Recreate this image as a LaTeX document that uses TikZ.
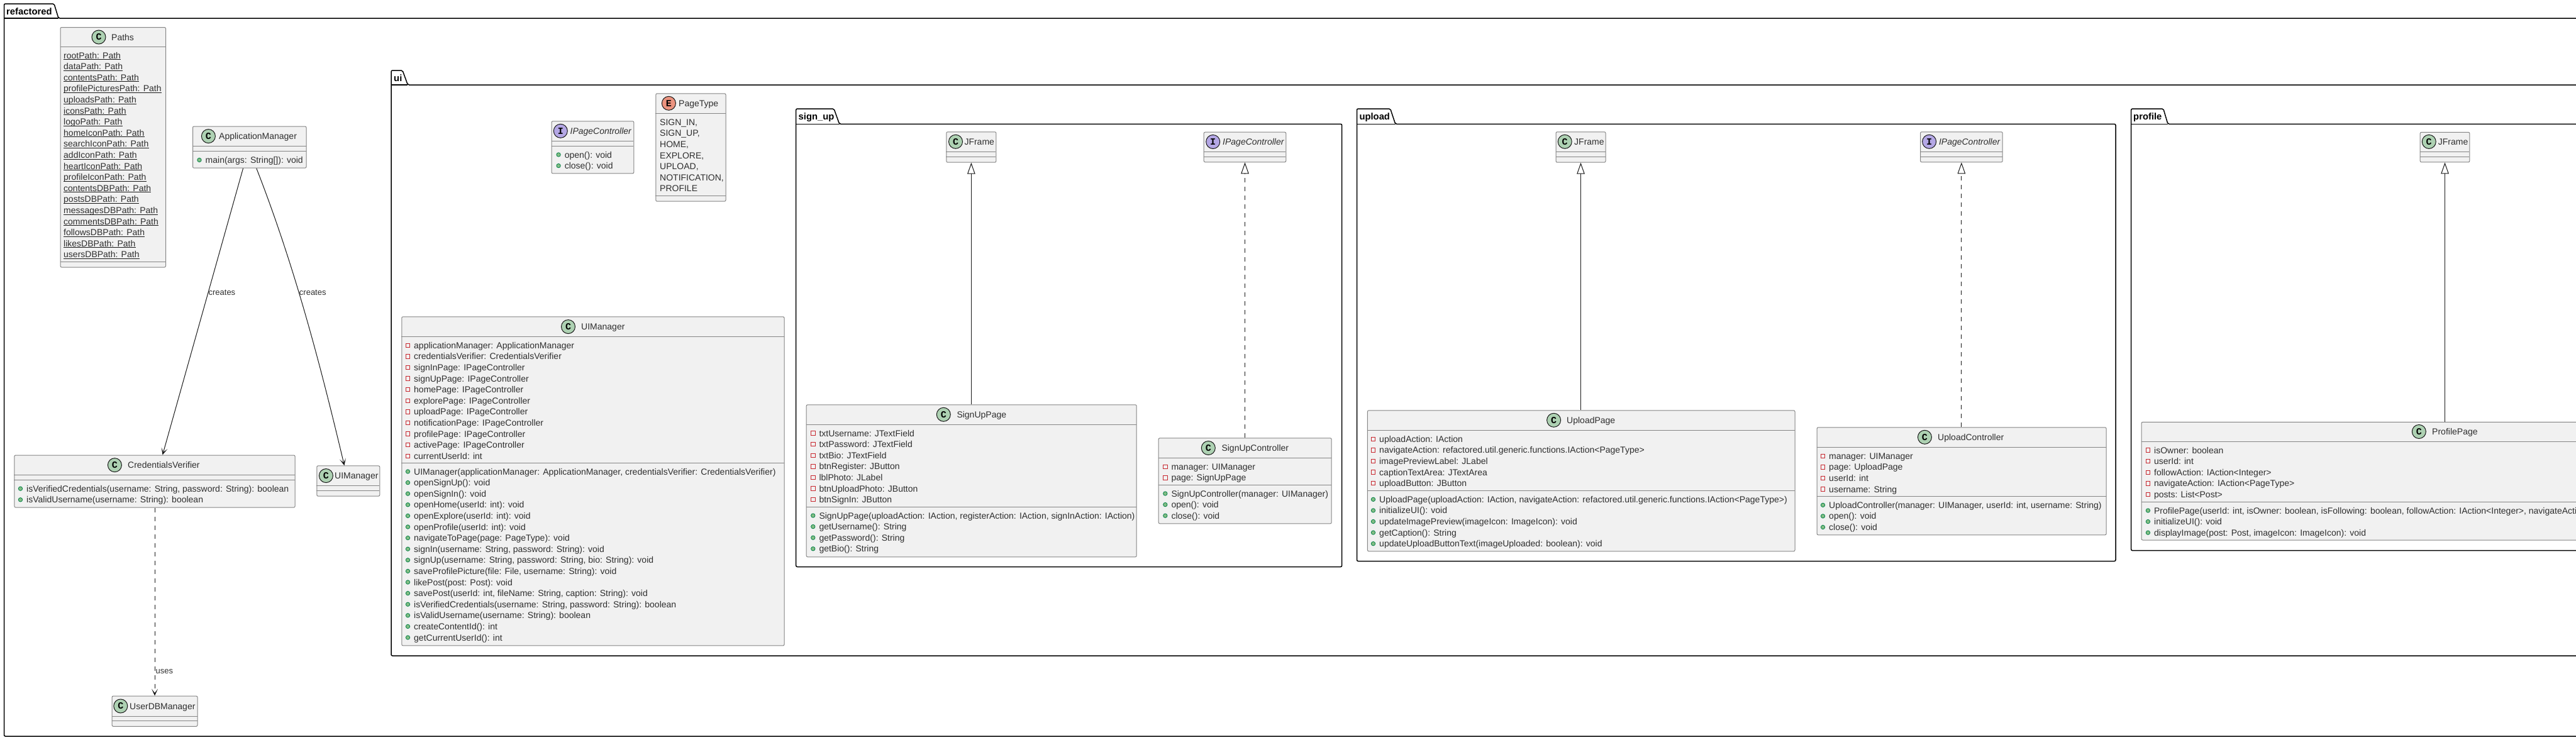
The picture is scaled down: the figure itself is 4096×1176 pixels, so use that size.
\documentclass[tikz,border=0pt]{standalone}
\usepackage{fontspec}
\setmainfont{Liberation Sans}
\setmonofont{Liberation Mono}
\usetikzlibrary{arrows.meta,positioning}
\definecolor{boxfill}{HTML}{F1F1F1}
\definecolor{boxgray}{HTML}{858585}
\definecolor{inkdark}{HTML}{181818}
\definecolor{inksoft}{HTML}{2E2E2E}
\definecolor{spotgreen}{HTML}{ADD1B2}
\definecolor{spotviolet}{HTML}{B4A7E5}
\definecolor{spotred}{HTML}{EB937F}
\definecolor{privred}{HTML}{C82930}
\definecolor{pubfill}{HTML}{84BE84}
\definecolor{publine}{HTML}{038048}
\newcommand{\umlfont}{\fontsize{14}{16}\selectfont}
\tikzset{
  classbox/.style={rectangle,draw=boxgray,fill=boxfill,line width=1pt,rounded corners=2pt,inner sep=0pt,anchor=north west},
  boxline/.style={draw=boxgray,line width=1pt},
  pkgline/.style={draw=black,line width=1.5pt,rounded corners=2pt},
  pkgname/.style={anchor=base west,inner sep=0pt,font=\fontsize{14.8}{16}\selectfont\bfseries},
  classname/.style={anchor=base west,inner sep=0pt,text=inksoft,font=\umlfont},
  membertext/.style={anchor=base west,inner sep=0pt,text=inksoft,font=\umlfont},
  statictext/.style={anchor=base west,inner sep=0pt,text=inksoft,font=\umlfont,text depth=1.5pt},
  linklabel/.style={anchor=west,inner sep=0pt,text=inksoft,font=\fontsize{13}{15}\selectfont},
  spot/.style={circle,draw=inkdark,line width=1pt,inner sep=0pt,minimum size=22pt,font=\ttfamily\bfseries\fontsize{15}{15}\selectfont},
  spotC/.style={spot,fill=spotgreen},
  spotI/.style={spot,fill=spotviolet},
  spotE/.style={spot,fill=spotred},
  privicon/.style={draw=privred,line width=1pt},
  pubicon/.style={draw=publine,fill=pubfill,line width=0.8pt},
  uses/.style={draw=inkdark,line width=1pt,-{Stealth[length=11pt,width=10pt,inset=6.5pt]}},
  usesdash/.style={uses,dash pattern=on 7pt off 7pt},
  extends/.style={draw=inkdark,line width=1pt,-{Triangle[open,fill=white,length=18pt,width=12.5pt]}},
  realizes/.style={extends,dash pattern=on 7pt off 7pt},
}
% x, y of a member: the text start and the line middle
\newcommand{\privm}[4]{\draw[privicon] (#2-9.5-3.2,#3-3.2) rectangle ++(6.4,6.4); \node[membertext] (#1) at (#2,#3+5) {#4};}
\newcommand{\pubm}[4]{\draw[pubicon] (#2-9.5,#3) circle (3.2pt); \node[membertext] (#1) at (#2,#3+5) {#4};}
\newcommand{\statm}[4]{\node[statictext] (#1) at (#2,#3+5) {#4}; \draw[line width=1pt,draw=inkdark] (#1.south west) -- (#1.south east);}
% left, top, line, tab top right, tab bottom right, right, bottom
\newcommand{\pkgframe}[7]{\draw[pkgline] (#1,#3) -- (#1,#2) -- (#4,#2) -- (#5,#3) -- (#6,#3) -- (#6,#7) -- (#1,#7) -- cycle; \draw[pkgline] (#1,#3) -- (#5,#3);}

\begin{document}
\begin{tikzpicture}[x=1pt,y=-1pt]
\path[use as bounding box,clip] (0,0) rectangle (4096,1176);

% packages
\pkgframe{6.5}{6}{29}{86}{93}{4100}{1171}
\node[pkgname] (refactoredName) at (10,23.5) {refactored};
\pkgframe{622}{112}{135}{640}{648.4}{4100}{1043}
\node[pkgname] (uiName) at (626,129.3) {ui};
\pkgframe{1265.7}{173}{197.3}{1326}{1334.7}{2133.7}{901.5}
\node[pkgname] (signUpName) at (1269.5,190) {sign\_up};
\pkgframe{2157.5}{173}{197.3}{2210.7}{2218.7}{3364}{892.5}
\node[pkgname] (uploadName) at (2161.3,190) {upload};
\pkgframe{3388.7}{173}{197.3}{3439.8}{3447}{4100}{875.7}
\node[pkgname] (profileName) at (3392,190) {profile};

% Paths
\node[classbox,minimum width=167.5pt,minimum height=381.5pt] (paths) at (95.5,43) {};
\draw[boxline] (95.5,74) -- (263,74);
\draw[boxline] (95.5,416.4) -- (263,416.4);
\node[spotC] (pathsSpot) at (157,59) {C};
\node[classname] (pathsName) at (177,64) {Paths};
\statm{rootPath}{101}{88}{rootPath: Path}
\statm{dataPath}{101}{105.6}{dataPath: Path}
\statm{contentsPath}{101}{123.2}{contentsPath: Path}
\statm{picturesPath}{101}{140.8}{profilePicturesPath: Path}
\statm{uploadsPath}{101}{158.4}{uploadsPath: Path}
\statm{iconsPath}{101}{176}{iconsPath: Path}
\statm{logoPath}{101}{193.6}{logoPath: Path}
\statm{homeIconPath}{101}{211.2}{homeIconPath: Path}
\statm{searchIconPath}{101}{228.8}{searchIconPath: Path}
\statm{addIconPath}{101}{246.4}{addIconPath: Path}
\statm{heartIconPath}{101}{264}{heartIconPath: Path}
\statm{profileIconPath}{101}{281.6}{profileIconPath: Path}
\statm{contentsDBPath}{101}{299.2}{contentsDBPath: Path}
\statm{postsDBPath}{101}{316.8}{postsDBPath: Path}
\statm{messagesDBPath}{101}{334.4}{messagesDBPath: Path}
\statm{commentsDBPath}{101}{352}{commentsDBPath: Path}
\statm{followsDBPath}{101}{369.6}{followsDBPath: Path}
\statm{likesDBPath}{101}{387.2}{likesDBPath: Path}
\statm{usersDBPath}{101}{404.8}{usersDBPath: Path}

% ApplicationManager
\node[classbox,minimum width=180.5pt,minimum height=66.2pt] (appManager) at (306,200.5) {};
\draw[boxline] (306,232.3) -- (486.5,232.3);
\draw[boxline] (306,240.3) -- (486.5,240.3);
\node[spotC] (appManagerSpot) at (331.4,216.6) {C};
\node[classname] (appManagerName) at (348,221.6) {ApplicationManager};
\pubm{appMain}{326.5}{254.5}{main(args: String[]): void}

% CredentialsVerifier
\node[classbox,minimum width=446.2pt,minimum height=83.1pt] (credVerifier) at (22.4,723.5) {};
\draw[boxline] (22.4,755.5) -- (468.6,755.5);
\draw[boxline] (22.4,763.6) -- (468.6,763.6);
\node[spotC] (credVerifierSpot) at (182.4,739.7) {C};
\node[classname] (credVerifierName) at (203,744.7) {CredentialsVerifier};
\pubm{credVerified}{42}{777.2}{isVerifiedCredentials(username: String, password: String): boolean}
\pubm{credValid}{42}{794.8}{isValidUsername(username: String): boolean}

% UIManager stub
\node[classbox,minimum width=100pt,minimum height=48.2pt] (uiStub) at (503.3,740.4) {};
\draw[boxline] (503.3,772.4) -- (603.3,772.4);
\draw[boxline] (503.3,780.5) -- (603.3,780.5);
\node[spotC] (uiStubSpot) at (518.4,756.6) {C};
\node[classname] (uiStubName) at (532,761.6) {UIManager};

% UserDBManager
\node[classbox,minimum width=135.9pt,minimum height=48.2pt] (userDb) at (177.6,1106.6) {};
\draw[boxline] (177.6,1139) -- (313.5,1139);
\draw[boxline] (177.6,1146.7) -- (313.5,1146.7);
\node[spotC] (userDbSpot) at (191.8,1123) {C};
\node[classname] (userDbName) at (206,1128) {UserDBManager};

% links of the refactored package
\draw[uses] ([xshift=-10.2pt]appManager.south) -- node[linklabel,pos=.433] (createsLeft) {creates} ([xshift=12.5pt]credVerifier.north);
\draw[uses] ([xshift=11pt]appManager.south) .. controls (469,424.6) and (510,582.5) .. node[linklabel,pos=.42] (createsRight) {creates} ([xshift=-6.3pt]uiStub.north);
\draw[usesdash] (credVerifier.south -| userDb.north) -- node[linklabel,pos=.871,xshift=1pt] (usesLabel) {uses} (userDb.north);

% IPageController and PageType
\node[classbox,minimum width=130.9pt,minimum height=83pt] (pageCtrl) at (876.5,192.3) {};
\draw[boxline] (876.5,224.3) -- (1007.4,224.3);
\draw[boxline] (876.5,232.3) -- (1007.4,232.3);
\node[spotI] (pageCtrlSpot) at (891.3,208.3) {I};
\node[classname] (pageCtrlName) at (906.4,213.3) {\itshape IPageController};
\pubm{pageCtrlOpen}{897.6}{246}{open(): void}
\pubm{pageCtrlClose}{897.6}{263.6}{close(): void}

\node[classbox,minimum width=111.2pt,minimum height=171.4pt] (pageType) at (1042.3,148.3) {};
\draw[boxline] (1042.3,180.3) -- (1153.5,180.3);
\draw[boxline] (1042.3,311.3) -- (1153.5,311.3);
\node[spotE] (pageTypeSpot) at (1063.4,164.3) {E};
\node[classname] (pageTypeName) at (1079,169.3) {PageType};
\node[membertext] (typeSignIn) at (1049,199.3) {SIGN\_IN,};
\node[membertext] (typeSignUp) at (1049,216.9) {SIGN\_UP,};
\node[membertext] (typeHome) at (1049,234.5) {HOME,};
\node[membertext] (typeExplore) at (1049,252.1) {EXPLORE,};
\node[membertext] (typeUpload) at (1049,269.7) {UPLOAD,};
\node[membertext] (typeNotif) at (1049,287.3) {NOTIFICATION,};
\node[membertext] (typeProfile) at (1049,304.9) {PROFILE};

% UIManager
\node[classbox,minimum width=608.2pt,minimum height=523.1pt] (uiManager) at (638.3,503.3) {};
\draw[boxline] (638.3,535.5) -- (1246.5,535.5);
\draw[boxline] (638.3,736) -- (1246.5,736);
\node[spotC] (uiManagerSpot) at (903.5,519.6) {C};
\node[classname] (uiManagerName) at (924,524.6) {UIManager};
\privm{uiApp}{658}{549.2}{applicationManager: ApplicationManager}
\privm{uiCred}{658}{566.8}{credentialsVerifier: CredentialsVerifier}
\privm{uiSignIn}{658}{584.4}{signInPage: IPageController}
\privm{uiSignUp}{658}{602}{signUpPage: IPageController}
\privm{uiHome}{658}{619.6}{homePage: IPageController}
\privm{uiExplore}{658}{637.2}{explorePage: IPageController}
\privm{uiUpload}{658}{654.8}{uploadPage: IPageController}
\privm{uiNotif}{658}{672.4}{notificationPage: IPageController}
\privm{uiProfile}{658}{690}{profilePage: IPageController}
\privm{uiActive}{658}{707.6}{activePage: IPageController}
\privm{uiCurrent}{658}{725.2}{currentUserId: int}
\pubm{uiCtor}{658}{750}{UIManager(applicationManager: ApplicationManager, credentialsVerifier: CredentialsVerifier)}
\pubm{uiOpenUp}{658}{767.6}{openSignUp(): void}
\pubm{uiOpenIn}{658}{785.2}{openSignIn(): void}
\pubm{uiOpenHome}{658}{802.8}{openHome(userId: int): void}
\pubm{uiOpenExplore}{658}{820.4}{openExplore(userId: int): void}
\pubm{uiOpenProfile}{658}{838}{openProfile(userId: int): void}
\pubm{uiNavigate}{658}{855.6}{navigateToPage(page: PageType): void}
\pubm{uiDoSignIn}{658}{873.2}{signIn(username: String, password: String): void}
\pubm{uiDoSignUp}{658}{890.8}{signUp(username: String, password: String, bio: String): void}
\pubm{uiSavePic}{658}{908.4}{saveProfilePicture(file: File, username: String): void}
\pubm{uiLike}{658}{926}{likePost(post: Post): void}
\pubm{uiSavePost}{658}{943.6}{savePost(userId: int, fileName: String, caption: String): void}
\pubm{uiVerified}{658}{961.2}{isVerifiedCredentials(username: String, password: String): boolean}
\pubm{uiValid}{658}{978.8}{isValidUsername(username: String): boolean}
\pubm{uiCreateId}{658}{996.4}{createContentId(): int}
\pubm{uiGetId}{658}{1014}{getCurrentUserId(): int}

% sign_up
\node[classbox,minimum width=79.1pt,minimum height=48.4pt] (suFrame) at (1504.3,209.3) {};
\draw[boxline] (1504.3,241.3) -- (1583.4,241.3);
\draw[boxline] (1504.3,249.3) -- (1583.4,249.3);
\node[spotC] (suFrameSpot) at (1519.5,225.3) {C};
\node[classname] (suFrameName) at (1533.3,230.3) {JFrame};

\node[classbox,minimum width=130.6pt,minimum height=47.6pt] (suCtrlFace) at (1913.7,209.7) {};
\draw[boxline] (1913.7,241.3) -- (2044.3,241.3);
\draw[boxline] (1913.7,249.3) -- (2044.3,249.3);
\node[spotI] (suCtrlFaceSpot) at (1928.7,225.5) {I};
\node[classname] (suCtrlFaceName) at (1944,230.5) {\itshape IPageController};

\node[classbox,minimum width=525pt,minimum height=242pt] (suPage) at (1281.7,643.3) {};
\draw[boxline] (1281.7,675) -- (1806.7,675);
\draw[boxline] (1281.7,806.7) -- (1806.7,806.7);
\node[spotC] (suPageSpot) at (1500.3,659.3) {C};
\node[classname] (suPageName) at (1521.3,664.3) {SignUpPage};
\privm{suUser}{1302.3}{689}{txtUsername: JTextField}
\privm{suPass}{1302.3}{706.6}{txtPassword: JTextField}
\privm{suBio}{1302.3}{724.2}{txtBio: JTextField}
\privm{suRegister}{1302.3}{741.8}{btnRegister: JButton}
\privm{suPhoto}{1302.3}{759.4}{lblPhoto: JLabel}
\privm{suUploadBtn}{1302.3}{777}{btnUploadPhoto: JButton}
\privm{suSignInBtn}{1302.3}{794.6}{btnSignIn: JButton}
\pubm{suCtor}{1302.3}{820}{SignUpPage(uploadAction: IAction, registerAction: IAction, signInAction: IAction)}
\pubm{suGetUser}{1302.3}{837.6}{getUsername(): String}
\pubm{suGetPass}{1302.3}{855.2}{getPassword(): String}
\pubm{suGetBio}{1302.3}{872.8}{getBio(): String}

\node[classbox,minimum width=275pt,minimum height=136pt] (suCtrl) at (1841.7,696.3) {};
\draw[boxline] (1841.7,728.3) -- (2116.7,728.3);
\draw[boxline] (1841.7,771.3) -- (2116.7,771.3);
\node[spotC] (suCtrlSpot) at (1921.3,712.5) {C};
\node[classname] (suCtrlName) at (1942.3,717.5) {SignUpController};
\privm{suCtrlManager}{1862.3}{742.3}{manager: UIManager}
\privm{suCtrlPage}{1862.3}{759.9}{page: SignUpPage}
\pubm{suCtrlCtor}{1862.3}{785}{SignUpController(manager: UIManager)}
\pubm{suCtrlOpen}{1862.3}{802.6}{open(): void}
\pubm{suCtrlClose}{1862.3}{820.2}{close(): void}

\draw[extends] (suPage.north -| suFrame.south) -- (suFrame.south);
\draw[realizes] (suCtrl.north -| suCtrlFace.south) -- (suCtrlFace.south);

% upload
\node[classbox,minimum width=79pt,minimum height=48.4pt] (upFrame) at (2473.5,209.3) {};
\draw[boxline] (2473.5,241.3) -- (2552.5,241.3);
\draw[boxline] (2473.5,249.3) -- (2552.5,249.3);
\node[spotC] (upFrameSpot) at (2488.2,225.3) {C};
\node[classname] (upFrameName) at (2503,230.3) {JFrame};

\node[classbox,minimum width=130.7pt,minimum height=48pt] (upCtrlFace) at (3053,209.3) {};
\draw[boxline] (3053,241.3) -- (3183.7,241.3);
\draw[boxline] (3053,249.3) -- (3183.7,249.3);
\node[spotI] (upCtrlFaceSpot) at (3067.6,225.3) {I};
\node[classname] (upCtrlFaceName) at (3082.8,230.3) {\itshape IPageController};

\node[classbox,minimum width=679.6pt,minimum height=224pt] (upPage) at (2173.9,652.3) {};
\draw[boxline] (2173.9,684.3) -- (2853.5,684.3);
\draw[boxline] (2173.9,780.3) -- (2853.5,780.3);
\node[spotC] (upPageSpot) at (2470.6,668.3) {C};
\node[classname] (upPageName) at (2491,673.3) {UploadPage};
\privm{upAction}{2193}{698.3}{uploadAction: IAction}
\privm{upNavigate}{2193}{715.9}{navigateAction: refactored.util.generic.functions.IAction<PageType>}
\privm{upPreview}{2193}{733.5}{imagePreviewLabel: JLabel}
\privm{upCaption}{2193}{751.1}{captionTextArea: JTextArea}
\privm{upButton}{2193}{768.7}{uploadButton: JButton}
\pubm{upCtor}{2193}{794.3}{UploadPage(uploadAction: IAction, navigateAction: refactored.util.generic.functions.IAction<PageType>)}
\pubm{upInit}{2193}{811.9}{initializeUI(): void}
\pubm{upUpdate}{2193}{829.5}{updateImagePreview(imageIcon: ImageIcon): void}
\pubm{upGetCaption}{2193}{847.1}{getCaption(): String}
\pubm{upBtnText}{2193}{864.7}{updateUploadButtonText(imageUploaded: boolean): void}

\node[classbox,minimum width=460pt,minimum height=171pt] (upCtrl) at (2888.6,679.3) {};
\draw[boxline] (2888.6,711.3) -- (3348.6,711.3);
\draw[boxline] (2888.6,789.3) -- (3348.6,789.3);
\node[spotC] (upCtrlSpot) at (3060.4,695.3) {C};
\node[classname] (upCtrlName) at (3081,700.3) {UploadController};
\privm{upCtrlManager}{2908}{725.3}{manager: UIManager}
\privm{upCtrlPage}{2908}{742.9}{page: UploadPage}
\privm{upCtrlUserId}{2908}{760.5}{userId: int}
\privm{upCtrlUsername}{2908}{778.1}{username: String}
\pubm{upCtrlCtor}{2908}{803.3}{UploadController(manager: UIManager, userId: int, username: String)}
\pubm{upCtrlOpen}{2908}{820.9}{open(): void}
\pubm{upCtrlClose}{2908}{838.5}{close(): void}

\draw[extends] (upPage.north -| upFrame.south) -- (upFrame.south);
\draw[realizes] (upCtrl.north -| upCtrlFace.south) -- (upCtrlFace.south);

% profile
\node[classbox,minimum width=78.6pt,minimum height=47.6pt] (prFrame) at (3847.7,209.8) {};
\draw[boxline] (3847.7,241.4) -- (3926.3,241.4);
\draw[boxline] (3847.7,249.4) -- (3926.3,249.4);
\node[spotC] (prFrameSpot) at (3862.2,225.4) {C};
\node[classname] (prFrameName) at (3876.6,230.4) {JFrame};

\node[classbox,minimum width=695.4pt,minimum height=187.7pt] (prPage) at (3404.6,670.8) {};
\draw[boxline] (3404.6,702.3) -- (4100,702.3);
\draw[boxline] (3404.6,798.8) -- (4100,798.8);
\node[spotC] (prPageSpot) at (3846.3,686.5) {C};
\node[classname] (prPageName) at (3867,691.5) {ProfilePage};
\privm{prOwner}{3424.9}{716}{isOwner: boolean}
\privm{prUserId}{3424.9}{733.6}{userId: int}
\privm{prFollow}{3424.9}{751.2}{followAction: IAction<Integer>}
\privm{prNavigate}{3424.9}{768.8}{navigateAction: IAction<PageType>}
\privm{prPosts}{3424.9}{786.4}{posts: List<Post>}
\pubm{prCtor}{3424.9}{812}{ProfilePage(userId: int, isOwner: boolean, isFollowing: boolean, followAction: IAction<Integer>, navigateActi}
\pubm{prInit}{3424.9}{829.6}{initializeUI(): void}
\pubm{prDisplay}{3424.9}{847.2}{displayImage(post: Post, imageIcon: ImageIcon): void}

\draw[extends] (prPage.north -| prFrame.south) -- (prFrame.south);
\end{tikzpicture}
\end{document}
